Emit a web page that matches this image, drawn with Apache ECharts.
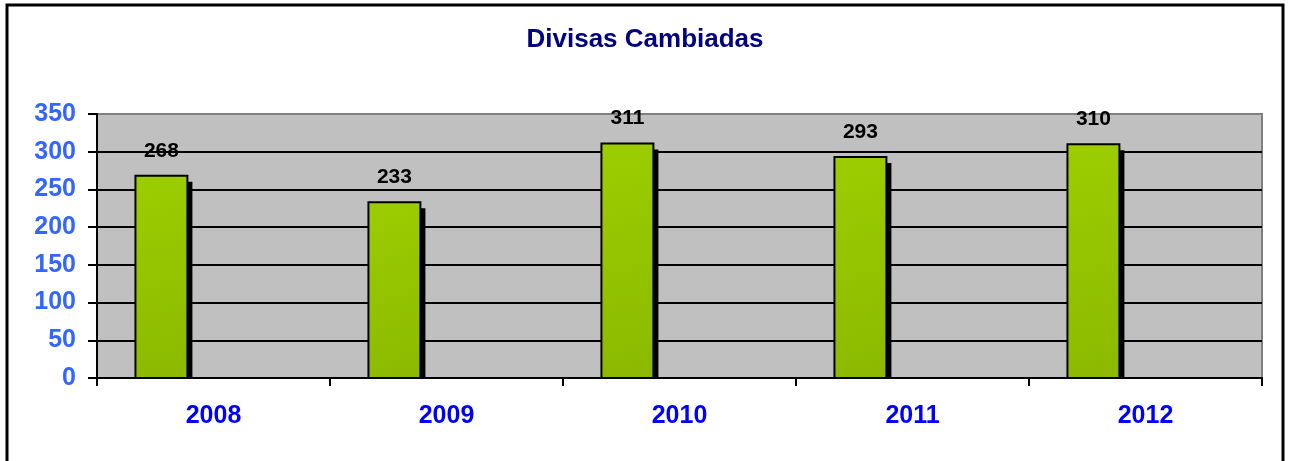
<!DOCTYPE html>
<html>
<head>
<meta charset="utf-8">
<script src="https://cdn.jsdelivr.net/npm/echarts@6/dist/echarts.min.js"></script>
<style>
html,body{margin:0;padding:0;background:#fff;}
#chart{width:1290px;height:461px;}
</style>
</head>
<body>
<div id="chart"></div>
<script>
const categories = ['2008', '2009', '2010', '2011', '2012'];
const values = [268, 233, 311, 293, 310];
const yTicks = { min: 0, max: 350, interval: 50 };

const chart = echarts.init(document.getElementById('chart'), null, { renderer: 'canvas' });

function renderBar(params, api) {
  const idx = api.value(0);
  const val = api.value(1);
  const top = api.coord([idx, val]);
  const base = api.coord([idx, 0]);
  const bw = api.size([1, 0])[0];
  const width = bw * 0.223;
  const left = top[0] - bw * 0.335;
  const h = base[1] - top[1];
  const sx = 5, sy = 6;
  return {
    type: 'group',
    children: [
      {
        type: 'rect',
        shape: { x: left + sx, y: top[1] + sy, width: width, height: Math.max(0, h - sy) },
        style: { fill: '#000' }
      },
      {
        type: 'rect',
        shape: { x: left, y: top[1], width: width, height: h },
        style: {
          fill: new echarts.graphic.LinearGradient(0, 0, 1, 1, [
            { offset: 0, color: '#9ccd00' },
            { offset: 1, color: '#8cb900' }
          ]),
          stroke: '#000',
          lineWidth: 2
        }
      },
      {
        type: 'text',
        x: left + width / 2,
        y: top[1] - 25,
        style: {
          text: String(val),
          fill: '#000',
          font: 'bold 21px Arial, "Liberation Sans", sans-serif',
          align: 'center',
          verticalAlign: 'middle'
        }
      }
    ]
  };
}

const option = {
  animation: false,
  backgroundColor: '#fff',
  title: {
    text: 'Divisas Cambiadas',
    left: 'center',
    top: 22,
    textStyle: {
      color: '#000080',
      fontSize: 26,
      fontWeight: 'bold',
      fontFamily: 'Arial, "Liberation Sans", sans-serif'
    }
  },
  graphic: [
    {
      type: 'rect',
      shape: { x: 7, y: 5, width: 1276, height: 470 },
      style: { fill: 'none', stroke: '#000', lineWidth: 3 },
      z: 100
    }
  ],
  grid: {
    left: 97,
    right: 28,
    top: 114,
    bottom: 83,
    show: true,
    backgroundColor: '#c0c0c0',
    borderColor: '#808080',
    borderWidth: 2
  },
  xAxis: {
    type: 'category',
    data: categories,
    boundaryGap: true,
    axisLine: { show: true, lineStyle: { color: '#000', width: 2 } },
    axisTick: { show: true, length: 8, inside: false, alignWithLabel: false, lineStyle: { color: '#000', width: 2 } },
    axisLabel: {
      margin: 26,
      color: '#0000ff',
      fontSize: 25,
      fontWeight: 'bold',
      fontFamily: 'Arial, "Liberation Sans", sans-serif'
    },
    splitLine: { show: false }
  },
  yAxis: {
    type: 'value',
    min: yTicks.min,
    max: yTicks.max,
    interval: yTicks.interval,
    axisLine: { show: true, lineStyle: { color: '#000', width: 2 } },
    axisTick: { show: true, length: 9, inside: false, lineStyle: { color: '#000', width: 2 } },
    axisLabel: {
      margin: 21,
      color: '#3366ff',
      fontSize: 25,
      fontWeight: 'bold',
      fontFamily: 'Arial, "Liberation Sans", sans-serif'
    },
    splitLine: {
      show: true,
      lineStyle: { color: ['#000', '#000', '#000', '#000', '#000', '#000', '#000', '#808080'], width: 2 }
    }
  },
  series: [
    {
      type: 'custom',
      renderItem: renderBar,
      encode: { x: 0, y: 1 },
      data: categories.map((c, i) => [i, values[i]]),
      clip: false,
      z: 5
    }
  ]
};

chart.setOption(option);
</script>
</body>
</html>
